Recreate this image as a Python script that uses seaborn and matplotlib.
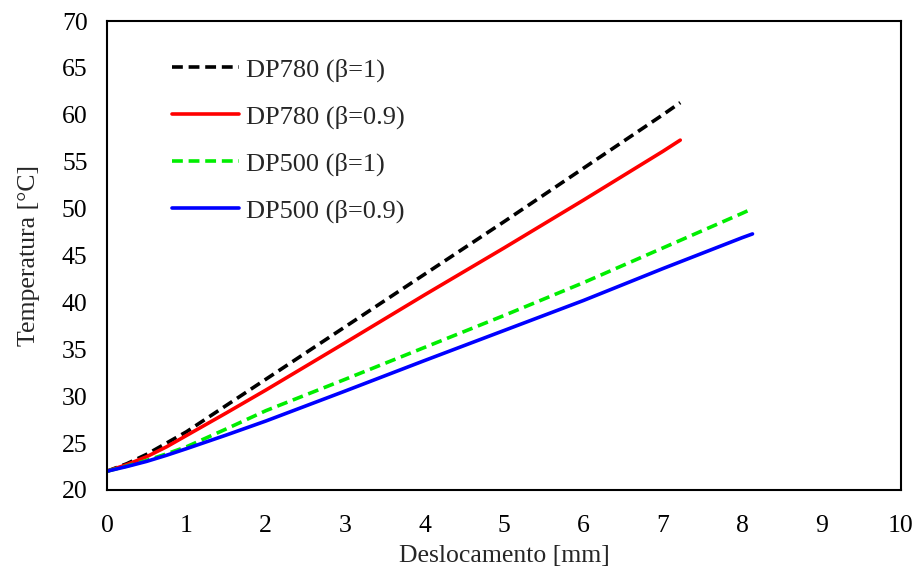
import matplotlib
matplotlib.use("Agg")
import matplotlib.pyplot as plt
import seaborn as sns
import pandas as pd

sns.set_style("white")
plt.rcParams['font.family'] = ['Liberation Serif', 'DejaVu Serif']

x_dp780 = [0, 0.25, 0.5, 0.75, 1, 1.5, 2, 3, 4, 5, 6, 7, 7.22]
y_dp780_b1 = [22.0, 22.8, 23.8, 25.0, 26.2, 29.0, 31.8, 37.4, 43.0, 48.6, 54.3, 60.0, 61.3]
y_dp780_b09 = [22.0, 22.7, 23.55, 24.6, 25.8, 28.2, 30.65, 35.7, 40.8, 45.8, 50.9, 56.1, 57.3]

x_dp500 = [0, 0.25, 0.5, 0.75, 1, 1.5, 2, 3, 4, 5, 6, 7, 8, 8.13]
y_dp500_b1 = [22.0, 22.55, 23.15, 23.85, 24.6, 26.5, 28.45, 31.8, 35.2, 38.6, 42.1, 45.8, 49.5, 50.0]
y_dp500_b09 = [22.0, 22.5, 23.05, 23.7, 24.4, 25.85, 27.35, 30.55, 33.8, 37.0, 40.2, 43.6, 46.9, 47.3]

labels = ["DP780 (β=1)", "DP780 (β=0.9)", "DP500 (β=1)", "DP500 (β=0.9)"]
colors = ["#000000", "#ff0000", "#00ee00", "#0000ff"]
xticks = list(range(0, 11))
yticks = list(range(20, 71, 5))

series = [
    (x_dp780, y_dp780_b1, labels[0], colors[0], True),
    (x_dp780, y_dp780_b09, labels[1], colors[1], False),
    (x_dp500, y_dp500_b1, labels[2], colors[2], True),
    (x_dp500, y_dp500_b09, labels[3], colors[3], False),
]

fig = plt.figure(figsize=(9.16, 5.71), dpi=100)
ax = fig.add_axes([0.1168, 0.1419, 0.8668, 0.8213])

for xs, ys, lab, col, dashed in series:
    df = pd.DataFrame({"x": xs, "y": ys})
    sns.lineplot(data=df, x="x", y="y", ax=ax, color=col, linewidth=2.6,
                 label=lab, sort=False, estimator=None)
    line = ax.get_lines()[-1]
    if dashed:
        line.set_dashes((3.0, 1.6))

ax.set_xlim(0, 10)
ax.set_ylim(20, 70)
ax.set_xticks(xticks)
ax.set_yticks(yticks)
ax.tick_params(axis='both', direction='in', length=5, width=1.2, labelsize=18.5,
               colors='black')
ax.tick_params(axis='x', pad=18)
ax.tick_params(axis='y', pad=14)
for s in ax.spines.values():
    s.set_color('black')
    s.set_linewidth(1.5)
ax.set_xlabel("Deslocamento [mm]", fontsize=18.5, labelpad=6)
ax.set_ylabel("Temperatura [°C]", fontsize=18.5, labelpad=16)

leg = ax.legend(loc='upper left', bbox_to_anchor=(0.052, 0.972), frameon=False,
                fontsize=19, handlelength=2.55, handletextpad=0.25,
                labelspacing=0.88)

fig.savefig("out.png", dpi=100)
